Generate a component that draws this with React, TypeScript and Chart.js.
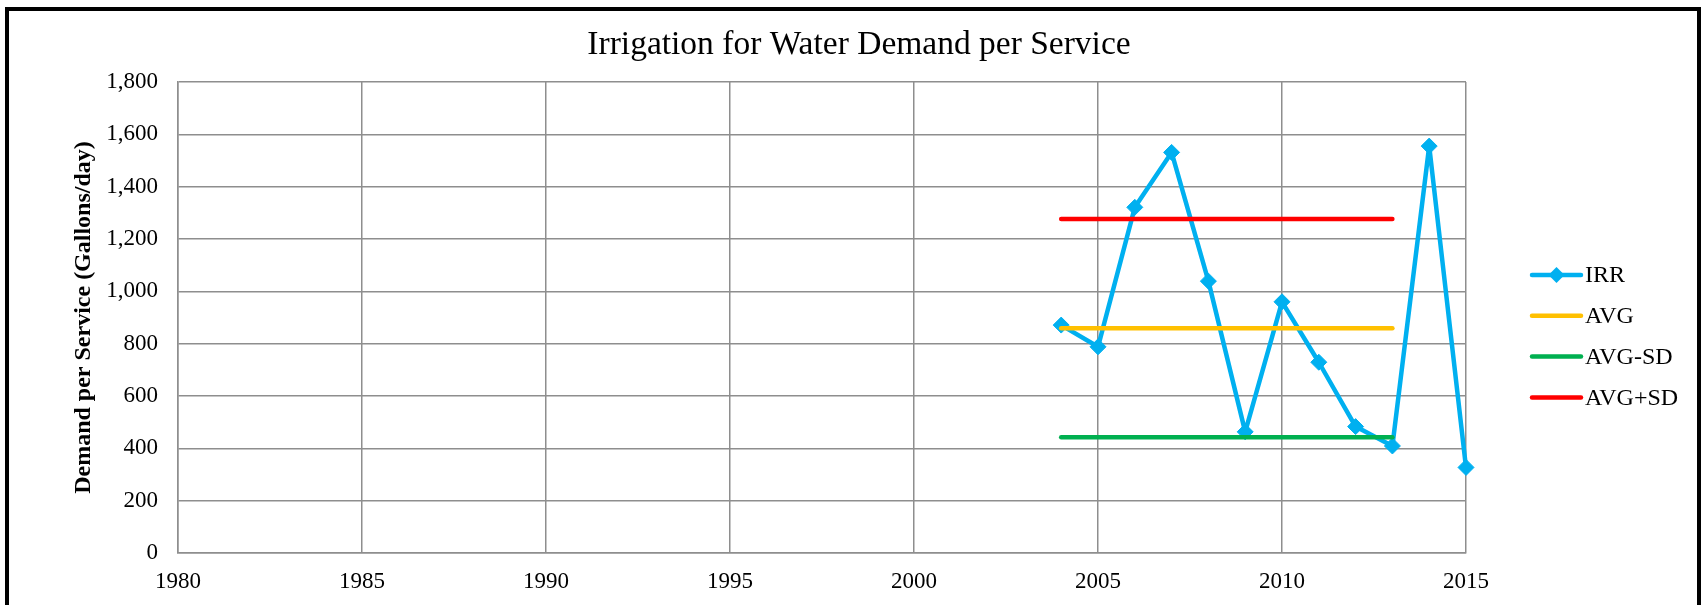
import React, { useEffect, useRef } from "react";
import { Chart, registerables } from "chart.js";

Chart.register(...registerables);

const chartTitle = "Irrigation for Water Demand per Service";
const yAxisTitle = "Demand per Service (Gallons/day)";

const irrYears = [2004, 2005, 2006, 2007, 2008, 2009, 2010, 2011, 2012, 2013, 2014, 2015];
const irrValues = [871, 788, 1321, 1531, 1039, 463, 960, 729, 483, 409, 1555, 327];

const refYears = [2004, 2013];
const avgValues = [859, 859];
const avgMinusSdValues = [442, 442];
const avgPlusSdValues = [1276, 1276];

const xMin = 1980;
const xMax = 2015;
const xStep = 5;
const yMin = 0;
const yMax = 1800;
const yStep = 200;

const FONT = "'Liberation Serif', 'Times New Roman', serif";

const toPoints = (xs: number[], ys: number[]) => xs.map((x, i) => ({ x, y: ys[i] }));

const decorPlugin = {
  id: "decor",
  afterDraw(chart: any) {
    const { ctx, chartArea, width, height } = chart;
    ctx.save();
    // frame
    ctx.strokeStyle = "#000";
    ctx.lineWidth = 4;
    ctx.strokeRect(7, 9, width - 12, height - 7);
    // title
    ctx.fillStyle = "#000";
    ctx.font = `33.5px ${FONT}`;
    ctx.textAlign = "center";
    ctx.textBaseline = "alphabetic";
    ctx.fillText(chartTitle, width / 2 + 7, 54);
    // legend
    const lx0 = chartArea.right + 66;
    const lx1 = lx0 + 49;
    let ly = chartArea.top + 193;
    ctx.font = `24px ${FONT}`;
    ctx.textAlign = "left";
    ctx.textBaseline = "middle";
    chart.data.datasets.forEach((ds: any) => {
      ctx.strokeStyle = ds.borderColor;
      ctx.lineWidth = 4.5;
      ctx.lineCap = "round";
      ctx.beginPath();
      ctx.moveTo(lx0, ly);
      ctx.lineTo(lx1, ly);
      ctx.stroke();
      if (ds.pointRadius > 0) {
        const r = 8;
        const cx = (lx0 + lx1) / 2;
        ctx.fillStyle = ds.borderColor;
        ctx.beginPath();
        ctx.moveTo(cx - r, ly);
        ctx.lineTo(cx, ly - r);
        ctx.lineTo(cx + r, ly);
        ctx.lineTo(cx, ly + r);
        ctx.closePath();
        ctx.fill();
      }
      ctx.fillStyle = "#000";
      ctx.fillText(ds.label, lx1 + 4, ly + 1);
      ly += 40.8;
    });
    ctx.restore();
  },
};

export default function App() {
  const canvasRef = useRef<HTMLCanvasElement | null>(null);

  useEffect(() => {
    document.body.style.margin = "0";
    const canvas = canvasRef.current;
    if (!canvas) return;
    const gridColor = "#8e8e8e";
    const chart = new Chart(canvas, {
      type: "line",
      data: {
        datasets: [
          {
            label: "IRR",
            data: toPoints(irrYears, irrValues),
            borderColor: "#00B0F0",
            backgroundColor: "#00B0F0",
            borderWidth: 4.5,
            borderJoinStyle: "round",
            borderCapStyle: "round",
            pointStyle: "rectRot",
            pointRadius: 8,
            pointBorderWidth: 1,
            pointBackgroundColor: "#00B0F0",
            pointBorderColor: "#00B0F0",
            tension: 0,
            clip: false,
            order: 2,
          },
          {
            label: "AVG",
            data: toPoints(refYears, avgValues),
            borderColor: "#FFC000",
            backgroundColor: "#FFC000",
            borderWidth: 4.5,
            borderCapStyle: "round",
            pointRadius: 0,
            clip: false,
            order: 1,
          },
          {
            label: "AVG-SD",
            data: toPoints(refYears, avgMinusSdValues),
            borderColor: "#00B050",
            backgroundColor: "#00B050",
            borderWidth: 4.5,
            borderCapStyle: "round",
            pointRadius: 0,
            clip: false,
            order: 1,
          },
          {
            label: "AVG+SD",
            data: toPoints(refYears, avgPlusSdValues),
            borderColor: "#FF0000",
            backgroundColor: "#FF0000",
            borderWidth: 4.5,
            borderCapStyle: "round",
            pointRadius: 0,
            clip: false,
            order: 1,
          },
        ],
      },
      options: {
        animation: false,
        responsive: true,
        maintainAspectRatio: false,
        layout: { padding: { left: 0, top: 82, right: 238, bottom: 0 } },
        plugins: {
          legend: { display: false },
          title: { display: false },
          tooltip: { enabled: false },
        },
        scales: {
          x: {
            type: "linear",
            min: xMin,
            max: xMax,
            afterFit: (scale: any) => {
              scale.height = 52;
            },
            ticks: {
              stepSize: xStep,
              color: "#000",
              font: { family: FONT, size: 23 },
              padding: 15,
              maxRotation: 0,
              callback: (v: any) => String(v),
            },
            grid: { color: gridColor, lineWidth: 1.5, drawTicks: false },
            border: { color: gridColor, width: 1.5 },
          },
          y: {
            type: "linear",
            min: yMin,
            max: yMax,
            afterFit: (scale: any) => {
              scale.width = 178;
            },
            ticks: {
              stepSize: yStep,
              color: "#000",
              font: { family: FONT, size: 23 },
              padding: 20,
              callback: (v: any) => Number(v).toLocaleString("en-US"),
            },
            grid: { color: gridColor, lineWidth: 1.5, drawTicks: false },
            border: { color: gridColor, width: 1.5 },
            title: {
              display: true,
              text: yAxisTitle,
              color: "#000",
              font: { family: FONT, size: 24, weight: "bold" },
              padding: { top: 69, bottom: 0 },
            },
          },
        },
      },
      plugins: [decorPlugin],
    });
    return () => chart.destroy();
  }, []);

  return (
    <div style={{ position: "absolute", left: 0, top: 0, width: 1704, height: 605, background: "#fff" }}>
      <canvas ref={canvasRef} />
    </div>
  );
}
